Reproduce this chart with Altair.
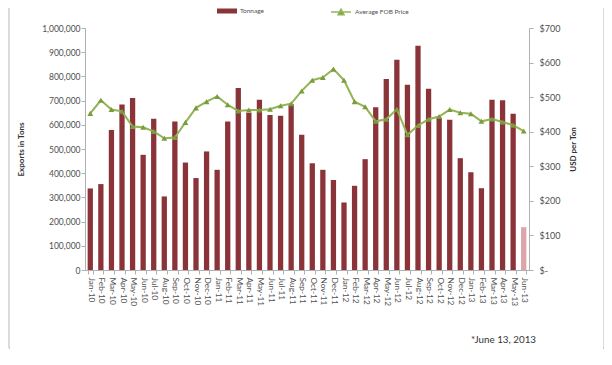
import altair as alt
import pandas as pd

months = [
    "Jan-10", "Feb-10", "Mar-10", "Apr-10", "May-10", "Jun-10", "Jul-10", "Aug-10", "Sep-10", "Oct-10", "Nov-10", "Dec-10",
    "Jan-11", "Feb-11", "Mar-11", "Apr-11", "May-11", "Jun-11", "Jul-11", "Aug-11", "Sep-11", "Oct-11", "Nov-11", "Dec-11",
    "Jan-12", "Feb-12", "Mar-12", "Apr-12", "May-12", "Jun-12", "Jul-12", "Aug-12", "Sep-12", "Oct-12", "Nov-12", "Dec-12",
    "Jan-13", "Feb-13", "Mar-13", "Apr-13", "May-13", "Jun-13",
]
tonnage = [
    337000, 355000, 579000, 684000, 711000, 476000, 625000, 304000, 614000, 444000, 380000, 490000,
    414000, 614000, 752000, 650000, 703000, 640000, 637000, 685000, 559000, 441000, 414000, 372000,
    279000, 348000, 458000, 673000, 789000, 869000, 766000, 927000, 749000, 630000, 621000, 462000,
    404000, 338000, 703000, 701000, 646000, 177000,
]
price = [
    453, 491, 464, 459, 415, 413, 401, 381, 383, 427, 469, 487,
    502, 478, 460, 463, 463, 465, 475, 481, 518, 549, 557, 581,
    549, 487, 472, 430, 436, 465, 391, 418, 436, 444, 464, 455,
    452, 430, 437, 428, 419, 402,
]
bar_series = ["Tonnage"] * 41 + ["Tonnage (partial month)"]
left_ticks = [0, 100000, 200000, 300000, 400000, 500000, 600000, 700000, 800000, 900000, 1000000]
right_ticks = [0, 100, 200, 300, 400, 500, 600, 700]
footnote = "*June 13, 2013"

RED = "#8a3439"
PINK = "#dba5a9"
GREEN = "#93b457"
DKGREEN = "#7a9c3c"
AXIS = "#b0b0b0"
TXT = "#505050"

df = pd.DataFrame({
    "month": months,
    "tonnage": tonnage,
    "price": price,
    "series": bar_series,
    "line": ["Average FOB Price"] * len(months),
})

xenc = alt.X(
    "month:N", sort=months,
    scale=alt.Scale(paddingInner=0.5, paddingOuter=0.25),
    axis=alt.Axis(title=None, labelAngle=90, labelFontSize=8.3, labelColor=TXT,
                  domainColor=AXIS, tickColor=AXIS, tickBand="extent", tickSize=4,
                  labelPadding=3),
)

base = alt.Chart(df)

bars = base.mark_bar().encode(
    x=xenc,
    y=alt.Y("tonnage:Q", scale=alt.Scale(domain=[0, 1000000], nice=False),
            axis=alt.Axis(title="Exports in Tons", values=left_ticks,
                          labelExpr="format(datum.value, ',')",
                          labelFontSize=8.5, labelColor=TXT, domainColor=AXIS, tickColor=AXIS,
                          tickSize=4, labelPadding=1, grid=False, titleFontSize=8,
                          titleFontWeight="bold", titleColor="#333", titlePadding=16)),
    fill=alt.Fill("series:N",
                  scale=alt.Scale(domain=["Tonnage", "Tonnage (partial month)"], range=[RED, PINK]),
                  legend=alt.Legend(values=["Tonnage"], title=None, orient="none",
                                    legendX=132, legendY=-27, labelFontSize=6.5, labelColor=TXT,
                                    symbolType="M-1,-0.25H1V0.25H-1Z", symbolSize=400,
                                    symbolStrokeWidth=0, labelOffset=3)),
)

line = base.mark_line(strokeWidth=2).encode(
    x=xenc,
    y=alt.Y("price:Q", scale=alt.Scale(domain=[0, 700], nice=False),
            axis=alt.Axis(title="USD per Ton", orient="right", values=right_ticks,
                          labelExpr="datum.value == 0 ? '$-' : '$' + datum.value",
                          labelFontSize=9, labelColor=TXT, domainColor=AXIS, tickColor=AXIS,
                          tickSize=4, labelPadding=6, grid=False, titleFontSize=8,
                          titleFontWeight="bold", titleColor="#333", titlePadding=18,
                          titleAngle=270)),
    stroke=alt.Stroke("line:N", scale=alt.Scale(range=[GREEN]),
                      legend=alt.Legend(title=None, orient="none", legendX=245, legendY=-27,
                                        labelFontSize=6.5, labelColor=TXT,
                                        symbolType="M-1,0H1M-0.3,0.28L0,-0.28L0.3,0.28Z",
                                        symbolSize=400, symbolStrokeWidth=1.5,
                                        symbolFillColor=DKGREEN, labelOffset=3)),
)

points = base.mark_point(shape="triangle-up", filled=True, size=34, color=DKGREEN, opacity=1).encode(
    x=xenc,
    y=alt.Y("price:Q", scale=alt.Scale(domain=[0, 700], nice=False), axis=None),
)

frame = alt.Chart(alt.Data(values=[{"a": 1}])).mark_rect(
    fill=None, stroke="#c4c4c4", strokeWidth=1.2, cornerRadius=9
).encode(
    x=alt.value(-76), x2=alt.value(519), y=alt.value(-60), y2=alt.value(327)
)

note = alt.Chart(alt.Data(values=[{"t": footnote}])).mark_text(
    align="right", baseline="alphabetic", fontSize=9.8, color="#333"
).encode(
    text="t:N", x=alt.value(451), y=alt.value(315)
)

chart = alt.layer(frame, bars, line, points, note).resolve_scale(y="independent").properties(
    width=444, height=242,
    padding={"left": 77, "top": 20, "right": 75, "bottom": 79},
    autosize=alt.AutoSizeParams(type="none"),
).configure(font="Lato").configure_view(stroke=None)

chart.save("out.html", embed_options={"renderer": "svg", "actions": False})
